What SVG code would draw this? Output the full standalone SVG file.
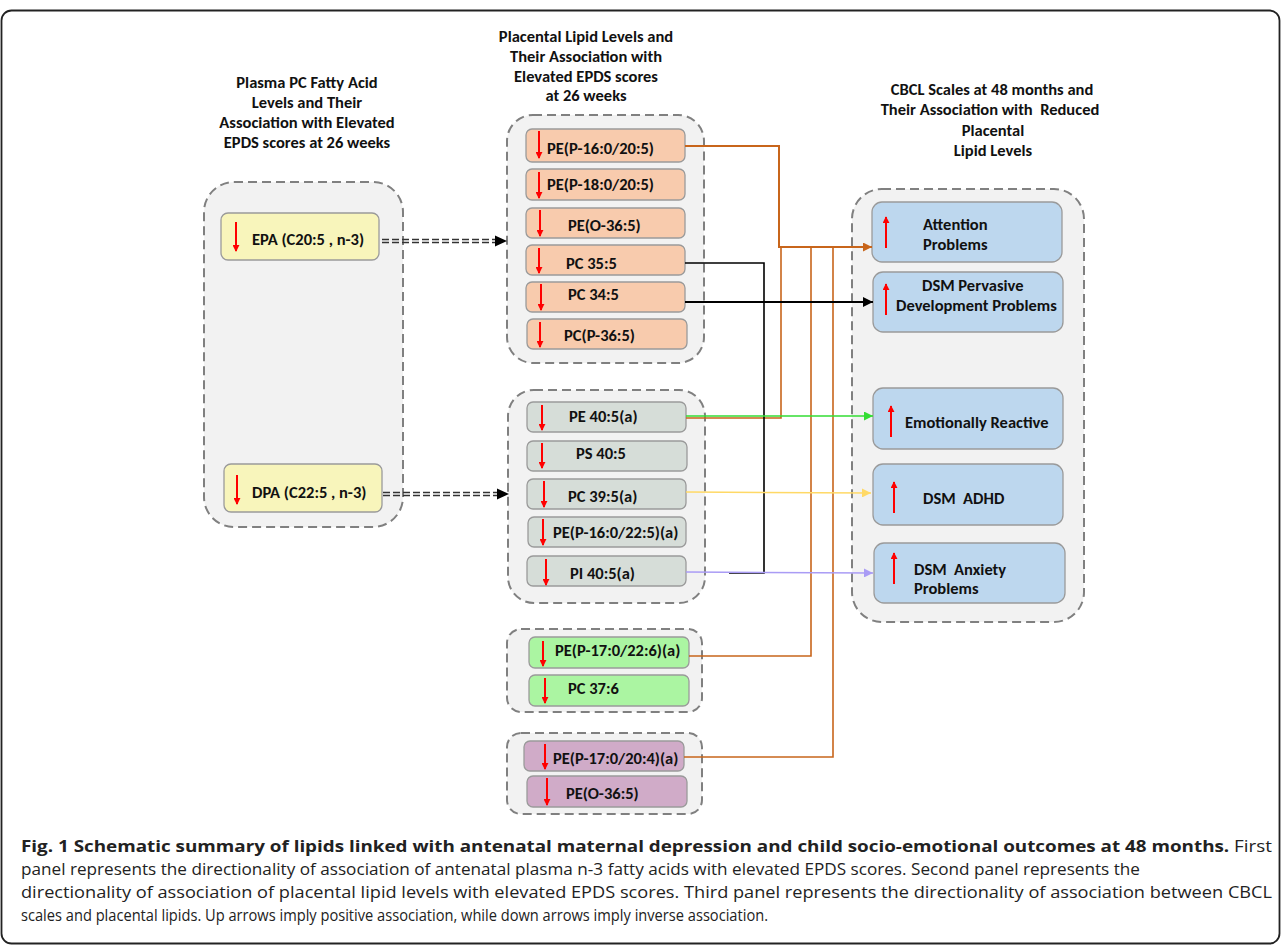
<svg xmlns="http://www.w3.org/2000/svg" width="1282" height="946" viewBox="0 0 1282 946">
<style>
.grp{fill:#f2f2f2;stroke:#808080;stroke-width:2;stroke-dasharray:9 5}
.nd{stroke:#9a9a9a;stroke-width:1.3}
.y{fill:#f8f5bb}.o{fill:#f8cbad}.g{fill:#d6ddd8}.gr{fill:#abf5a2}.p{fill:#d0abc8}.b{fill:#bdd7ee}
.t{font-family:Carlito,Lato,"Liberation Sans",sans-serif;font-weight:bold;font-size:16.5px;fill:#111}
.h{font-family:Carlito,Lato,"Liberation Sans",sans-serif;font-weight:bold;font-size:16.5px;fill:#111;text-anchor:middle}
.ra{stroke:#ff0000;stroke-width:2;fill:none;marker-end:url(#mr)}
.cap{font-family:"Open Sans","Noto Sans",sans-serif;font-size:16px;fill:#222}
.c{fill:none}
</style>
<defs>
<marker id="mr" viewBox="0 0 8 8" refX="7" refY="4" markerWidth="7" markerHeight="7" markerUnits="userSpaceOnUse" orient="auto"><path d="M0,0 L8,4 L0,8 z" fill="#ff0000"/></marker>
<marker id="mk" viewBox="0 0 10 10" refX="10" refY="5" markerWidth="12" markerHeight="10" markerUnits="userSpaceOnUse" orient="auto"><path d="M0,0 L10,5 L0,10 z" fill="#000"/></marker>
<marker id="mo" viewBox="0 0 10 10" refX="10" refY="5" markerWidth="10" markerHeight="9" markerUnits="userSpaceOnUse" orient="auto"><path d="M0,0 L10,5 L0,10 z" fill="#c8651b"/></marker>
<marker id="mg" viewBox="0 0 10 10" refX="10" refY="5" markerWidth="10" markerHeight="9" markerUnits="userSpaceOnUse" orient="auto"><path d="M0,0 L10,5 L0,10 z" fill="#33dd33"/></marker>
<marker id="my" viewBox="0 0 10 10" refX="10" refY="5" markerWidth="10" markerHeight="9" markerUnits="userSpaceOnUse" orient="auto"><path d="M0,0 L10,5 L0,10 z" fill="#ffd966"/></marker>
<marker id="mp" viewBox="0 0 10 10" refX="10" refY="5" markerWidth="10" markerHeight="9" markerUnits="userSpaceOnUse" orient="auto"><path d="M0,0 L10,5 L0,10 z" fill="#aa9cf5"/></marker>
</defs>
<rect x="1.5" y="10.5" width="1278" height="933" rx="10" fill="#fff" stroke="#222" stroke-width="1.8"/>

<g id="headers">
<text class="h" x="307" y="88">Plasma PC Fatty Acid</text>
<text class="h" x="307" y="108">Levels and Their</text>
<text class="h" x="307" y="128">Association with Elevated</text>
<text class="h" x="307" y="148">EPDS scores at 26 weeks</text>
<text class="h" x="586" y="42">Placental Lipid Levels and</text>
<text class="h" x="586" y="62">Their Association with</text>
<text class="h" x="586" y="82">Elevated EPDS scores</text>
<text class="h" x="586" y="101">at 26 weeks</text>
<text class="h" x="992" y="95">CBCL Scales at 48 months and</text>
<text class="h" x="990" y="115" xml:space="preserve">Their Association with  Reduced</text>
<text class="h" x="993" y="136">Placental</text>
<text class="h" x="993" y="156">Lipid Levels</text>
</g>

<g id="panel-plasma"><rect class="grp" x="204" y="182" width="199" height="345" rx="30"/></g>
<g id="panel-placental-a"><rect class="grp" x="507" y="115" width="197" height="248" rx="26"/></g>
<g id="panel-placental-b"><rect class="grp" x="508" y="390" width="197" height="213" rx="26"/></g>
<g id="panel-placental-c"><rect class="grp" x="507" y="629" width="195" height="83" rx="14"/></g>
<g id="panel-placental-d"><rect class="grp" x="507" y="733" width="195" height="81" rx="14"/></g>
<g id="panel-cbcl"><rect class="grp" x="852" y="189" width="232" height="433" rx="30"/></g>

<g id="epa"><rect class="nd y" x="221" y="213" width="158" height="47" rx="7"/><path class="ra" d="M236,222 V251"/><text class="t" x="252" y="245">EPA (C20:5 , n-3)</text></g>
<g id="dpa"><rect class="nd y" x="224" y="464" width="158" height="48" rx="7"/><path class="ra" d="M237,475 V504"/><text class="t" x="252" y="498">DPA (C22:5 , n-3)</text></g>

<g id="pe-p16-205"><rect class="nd o" x="526" y="129" width="159" height="33" rx="6"/><path class="ra" d="M539,131 V158"/><text class="t" x="547" y="154">PE(P-16:0/20:5)</text></g>
<g id="pe-p18-205"><rect class="nd o" x="526" y="169" width="159" height="31" rx="6"/><path class="ra" d="M539,172 V198"/><text class="t" x="547" y="190">PE(P-18:0/20:5)</text></g>
<g id="pe-o365"><rect class="nd o" x="526" y="208" width="159" height="30" rx="6"/><path class="ra" d="M540,210 V236"/><text class="t" x="568" y="231">PE(O-36:5)</text></g>
<g id="pc355"><rect class="nd o" x="526" y="245" width="159" height="30" rx="6"/><path class="ra" d="M539,248 V273"/><text class="t" x="566" y="269">PC 35:5</text></g>
<g id="pc345"><rect class="nd o" x="526" y="282" width="159" height="30" rx="6"/><path class="ra" d="M541,284 V310"/><text class="t" x="568" y="300">PC 34:5</text></g>
<g id="pc-p365"><rect class="nd o" x="527" y="319" width="160" height="30" rx="6"/><path class="ra" d="M540,322 V347"/><text class="t" x="564" y="341">PC(P-36:5)</text></g>

<g id="pe405a"><rect class="nd g" x="527" y="402" width="159" height="30" rx="6"/><path class="ra" d="M542,405 V430"/><text class="t" x="569" y="422">PE 40:5(a)</text></g>
<g id="ps405"><rect class="nd g" x="527" y="441" width="160" height="30" rx="6"/><path class="ra" d="M542,443 V468"/><text class="t" x="576" y="459">PS 40:5</text></g>
<g id="pc395a"><rect class="nd g" x="527" y="479" width="159" height="30" rx="6"/><path class="ra" d="M544,481 V507"/><text class="t" x="568" y="502">PC 39:5(a)</text></g>
<g id="pe-p16-225a"><rect class="nd g" x="528" y="517" width="158" height="30" rx="6"/><path class="ra" d="M543,519 V545"/><text class="t" x="553" y="538">PE(P-16:0/22:5)(a)</text></g>
<g id="pi405a"><rect class="nd g" x="527" y="556" width="159" height="30" rx="6"/><path class="ra" d="M546,559 V585"/><text class="t" x="570" y="579">PI 40:5(a)</text></g>

<g id="pe-p17-226a"><rect class="nd gr" x="529" y="637" width="160" height="31" rx="6"/><path class="ra" d="M543,641 V666"/><text class="t" x="555" y="656">PE(P-17:0/22:6)(a)</text></g>
<g id="pc376"><rect class="nd gr" x="529" y="675" width="160" height="31" rx="6"/><path class="ra" d="M545,678 V703"/><text class="t" x="568" y="694">PC 37:6</text></g>

<g id="pe-p17-204a"><rect class="nd p" x="524" y="741" width="160" height="30" rx="6"/><path class="ra" d="M545,744 V769"/><text class="t" x="553" y="764">PE(P-17:0/20:4)(a)</text></g>
<g id="pe-o365-b"><rect class="nd p" x="527" y="776" width="160" height="31" rx="6"/><path class="ra" d="M547,778 V805"/><text class="t" x="566" y="799">PE(O-36:5)</text></g>

<g id="attention"><rect class="nd b" x="872" y="202" width="190" height="60" rx="10"/><path class="ra" d="M886,248 V217"/><text class="t" x="923" y="230">Attention</text><text class="t" x="923" y="250">Problems</text></g>
<g id="pervasive"><rect class="nd b" x="873" y="272" width="190" height="60" rx="10"/><path class="ra" d="M886,315 V284"/><text class="t" x="922" y="291">DSM Pervasive</text><text class="t" x="896" y="311">Development Problems</text></g>
<g id="emotional"><rect class="nd b" x="873" y="388" width="190" height="61" rx="10"/><path class="ra" d="M891,437 V406"/><text class="t" x="905" y="428">Emotionally Reactive</text></g>
<g id="adhd"><rect class="nd b" x="873" y="464" width="190" height="61" rx="10"/><path class="ra" d="M894,513 V482"/><text class="t" x="923" y="504" xml:space="preserve">DSM  ADHD</text></g>
<g id="anxiety"><rect class="nd b" x="874" y="543" width="191" height="60" rx="10"/><path class="ra" d="M894,584 V553"/><text class="t" x="914" y="575" xml:space="preserve">DSM  Anxiety</text><text class="t" x="914" y="594">Problems</text></g>

<g id="connectors">
<path class="c" d="M382,239.5 H497" stroke="#333" stroke-width="1.3" stroke-dasharray="7 3"/>
<path class="c" d="M382,242.5 H497" stroke="#333" stroke-width="1.3" stroke-dasharray="7 3"/>
<path d="M495,235.5 L507,241 L495,246.5 z" fill="#000"/>
<path class="c" d="M383,492.5 H499" stroke="#333" stroke-width="1.3" stroke-dasharray="7 3"/>
<path class="c" d="M383,495.5 H499" stroke="#333" stroke-width="1.3" stroke-dasharray="7 3"/>
<path d="M497,488.5 L509,494 L497,499.5 z" fill="#000"/>

<path class="c" d="M685,146 H779 V247 H872" stroke="#c8651b" stroke-width="2" marker-end="url(#mo)"/>
<path class="c" d="M686,418 H781 V247" stroke="#c8651b" stroke-width="1.6"/>
<path class="c" d="M689,656 H811 V247" stroke="#c8651b" stroke-width="1.6"/>
<path class="c" d="M684,757 H833 V247" stroke="#c8651b" stroke-width="1.6"/>
<path class="c" d="M685,263 H764 V573 H729" stroke="#000" stroke-width="1.6"/>
<path class="c" d="M685,302 H873" stroke="#000" stroke-width="1.8" marker-end="url(#mk)"/>
<path class="c" d="M686,416 H873" stroke="#33dd33" stroke-width="1.5" marker-end="url(#mg)"/>
<path class="c" d="M686,492 L871,493" stroke="#ffd966" stroke-width="1.5" marker-end="url(#my)"/>
<path class="c" d="M686,572 L873,573" stroke="#aa9cf5" stroke-width="1.5" marker-end="url(#mp)"/>
</g>

<g id="caption">
<text class="cap" x="21" y="852" textLength="1251" lengthAdjust="spacingAndGlyphs"><tspan font-weight="bold">Fig. 1 Schematic summary of lipids linked with antenatal maternal depression and child socio-emotional outcomes at 48 months.</tspan> First</text>
<text class="cap" x="21" y="875" textLength="1119" lengthAdjust="spacingAndGlyphs">panel represents the directionality of association of antenatal plasma n-3 fatty acids with elevated EPDS scores. Second panel represents the</text>
<text class="cap" x="21" y="898" textLength="1251" lengthAdjust="spacingAndGlyphs">directionality of association of placental lipid levels with elevated EPDS scores. Third panel represents the directionality of association between CBCL</text>
<text class="cap" x="21" y="921" textLength="747" lengthAdjust="spacingAndGlyphs">scales and placental lipids. Up arrows imply positive association, while down arrows imply inverse association.</text>
</g>
</svg>
